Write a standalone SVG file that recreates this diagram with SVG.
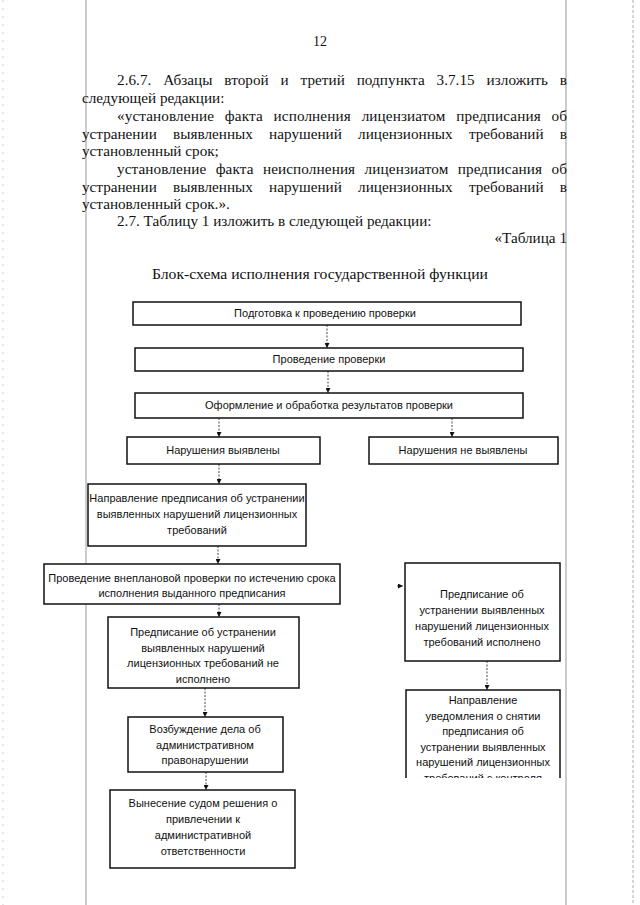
<svg xmlns="http://www.w3.org/2000/svg" width="640" height="905" viewBox="0 0 640 905">
<style>
.body{font-family:"Liberation Serif","Times New Roman",serif;font-size:15.2px;fill:#111}
.box{fill:#fff;stroke:#111;stroke-width:1.5}
.bt{font-family:"Liberation Sans",Arial,sans-serif;font-size:11px;fill:#111;text-anchor:middle}
.con{stroke:#333;stroke-width:0.9;stroke-dasharray:2 1.5;fill:none}
.margin{stroke:#999;stroke-width:1}
</style>
<defs>
<marker id="ah" viewBox="0 0 6 6" refX="6" refY="3" markerWidth="5" markerHeight="5" orient="auto" markerUnits="userSpaceOnUse">
<path d="M0,0 L6,3 L0,6 z" fill="#111"/>
</marker>
<clipPath id="cut"><rect x="380" y="680" width="200" height="98"/></clipPath>
</defs>
<rect width="640" height="905" fill="#fff"/>
<line class="margin" x1="86" y1="0" x2="86" y2="905"/>
<line class="margin" x1="566" y1="0" x2="566" y2="905"/>
<line x1="633" y1="0" x2="633" y2="905" stroke="#bbb" stroke-width="1.2" stroke-dasharray="3 2"/>
<line x1="3" y1="0" x2="3" y2="905" stroke="#ccc" stroke-width="1" stroke-dasharray="2 6"/>

<g id="page-text" class="body">
<text x="320" y="46" text-anchor="middle" font-size="14">12</text>
<text x="117" y="85" word-spacing="8" textLength="450" lengthAdjust="spacing">2.6.7. Абзацы второй и третий подпункта 3.7.15 изложить в</text>
<text x="82" y="103">следующей редакции:</text>
<text x="117" y="121" word-spacing="6.9" textLength="450" lengthAdjust="spacing">«установление факта исполнения лицензиатом предписания об</text>
<text x="82" y="139" word-spacing="12.5" textLength="485" lengthAdjust="spacing">устранении выявленных нарушений лицензионных требований в</text>
<text x="82" y="156">установленный срок;</text>
<text x="117" y="174" word-spacing="5.5" textLength="450" lengthAdjust="spacing">установление факта неисполнения лицензиатом предписания об</text>
<text x="82" y="192" word-spacing="12.5" textLength="485" lengthAdjust="spacing">устранении выявленных нарушений лицензионных требований в</text>
<text x="82" y="209">установленный срок.».</text>
<text x="117" y="226">2.7. Таблицу 1 изложить в следующей редакции:</text>
<text x="567" y="243" text-anchor="end">«Таблица 1</text>
<text x="320" y="279" text-anchor="middle" font-size="15.5" textLength="336" lengthAdjust="spacingAndGlyphs">Блок-схема исполнения государственной функции</text>
</g>

<g id="connectors">
<line class="con" x1="327" y1="325" x2="327" y2="348" marker-end="url(#ah)"/>
<line class="con" x1="328" y1="371" x2="328" y2="393" marker-end="url(#ah)"/>
<line class="con" x1="219" y1="418" x2="219" y2="437" marker-end="url(#ah)"/>
<line class="con" x1="452" y1="418" x2="452" y2="437" marker-end="url(#ah)"/>
<line class="con" x1="219" y1="464" x2="219" y2="484" marker-end="url(#ah)"/>
<line class="con" x1="218" y1="546" x2="218" y2="564" marker-end="url(#ah)"/>
<line class="con" x1="219" y1="604" x2="219" y2="617" marker-end="url(#ah)"/>
<line class="con" x1="397" y1="586" x2="403" y2="586" marker-end="url(#ah)"/>
<line class="con" x1="487" y1="661" x2="487" y2="690" marker-end="url(#ah)"/>
<line class="con" x1="205" y1="688" x2="205" y2="717" marker-end="url(#ah)"/>
<line class="con" x1="206" y1="772" x2="206" y2="790" marker-end="url(#ah)"/>
</g>

<g id="n1"><rect class="box" x="133" y="302" width="388" height="23"/>
<text class="bt" x="325" y="317">Подготовка к проведению проверки</text></g>
<g id="n2"><rect class="box" x="135" y="348" width="388" height="23"/>
<text class="bt" x="329" y="363">Проведение проверки</text></g>
<g id="n3"><rect class="box" x="135" y="393" width="388" height="25"/>
<text class="bt" x="329" y="409">Оформление и обработка результатов проверки</text></g>
<g id="n4"><rect class="box" x="127" y="437" width="193" height="27"/>
<text class="bt" x="223" y="454">Нарушения выявлены</text></g>
<g id="n5"><rect class="box" x="369" y="437" width="189" height="27"/>
<text class="bt" x="463" y="454">Нарушения не выявлены</text></g>
<g id="n6"><rect class="box" x="88" y="484" width="218" height="62"/>
<text class="bt" x="197" y="502">Направление предписания об устранении</text>
<text class="bt" x="197" y="518">выявленных нарушений лицензионных</text>
<text class="bt" x="197" y="534">требований</text></g>
<g id="n7"><rect class="box" x="44" y="564" width="296" height="40"/>
<text class="bt" x="192" y="582">Проведение внеплановой проверки по истечению срока</text>
<text class="bt" x="192" y="597">исполнения выданного предписания</text></g>
<g id="n8"><rect class="box" x="108" y="617" width="191" height="71"/>
<text class="bt" x="203" y="636">Предписание об устранении</text>
<text class="bt" x="203" y="652">выявленных нарушений</text>
<text class="bt" x="203" y="667">лицензионных требований не</text>
<text class="bt" x="203" y="683">исполнено</text></g>
<g id="n9"><rect class="box" x="405" y="563" width="155" height="98"/>
<text class="bt" x="482" y="598">Предписание об</text>
<text class="bt" x="482" y="614">устранении выявленных</text>
<text class="bt" x="482" y="630">нарушений лицензионных</text>
<text class="bt" x="482" y="646">требований исполнено</text></g>
<g id="n10"><rect class="box" x="128" y="717" width="155" height="55"/>
<text class="bt" x="205" y="733">Возбуждение дела об</text>
<text class="bt" x="205" y="749">административном</text>
<text class="bt" x="205" y="764">правонарушении</text></g>
<g id="n11"><path class="box" d="M406,778 V690 H560 V778" fill="none"/>
<g clip-path="url(#cut)">
<text class="bt" x="483" y="704">Направление</text>
<text class="bt" x="483" y="720">уведомления о снятии</text>
<text class="bt" x="483" y="735">предписания об</text>
<text class="bt" x="483" y="751">устранении выявленных</text>
<text class="bt" x="483" y="766">нарушений лицензионных</text>
<text class="bt" x="483" y="782">требований с контроля</text>
</g></g>
<g id="n12"><rect class="box" x="110" y="790" width="185" height="78"/>
<text class="bt" x="203" y="807">Вынесение судом решения о</text>
<text class="bt" x="203" y="823">привлечении к</text>
<text class="bt" x="203" y="839">административной</text>
<text class="bt" x="203" y="855">ответственности</text></g>
</svg>
